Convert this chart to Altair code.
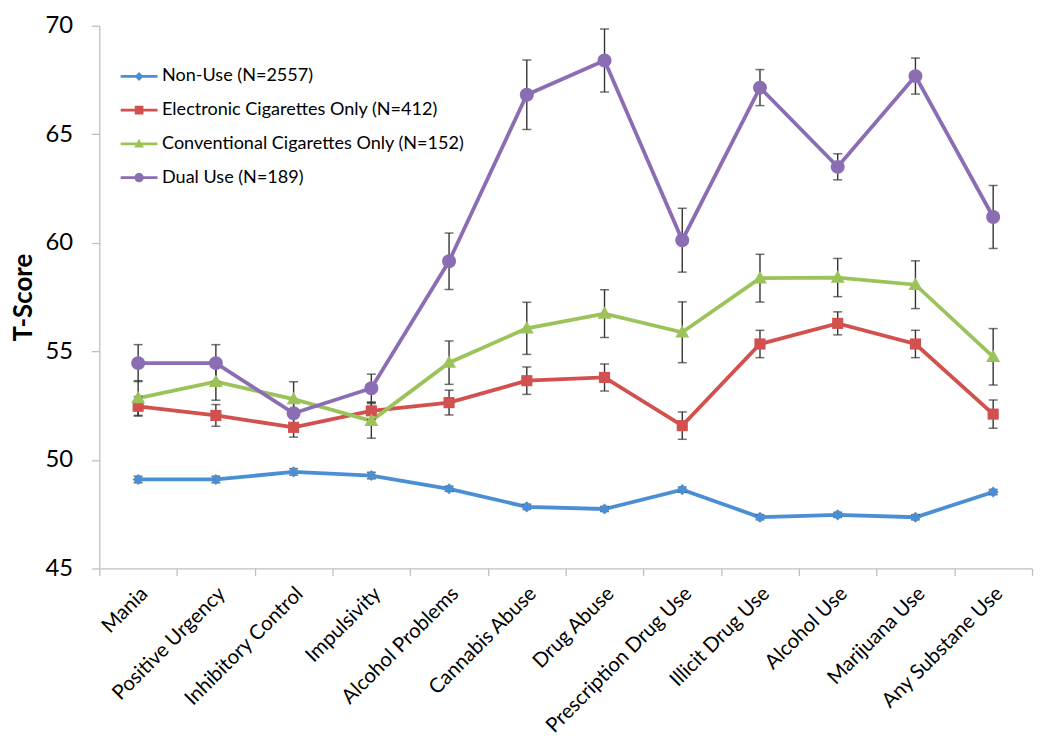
import altair as alt
import pandas as pd

categories = ["Mania", "Positive Urgency", "Inhibitory Control", "Impulsivity",
              "Alcohol Problems", "Cannabis Abuse", "Drug Abuse", "Prescription Drug Use",
              "Illicit Drug Use", "Alcohol Use", "Marijuana Use", "Any Substane Use"]

series_names = ["Non-Use (N=2557)", "Electronic Cigarettes Only (N=412)",
                "Conventional Cigarettes Only (N=152)", "Dual Use (N=189)"]

non_use = [49.10, 49.10, 49.45, 49.28, 48.67, 47.84, 47.74, 48.63, 47.36, 47.47, 47.36, 48.52]
non_use_err = [0.15, 0.15, 0.15, 0.15, 0.12, 0.12, 0.12, 0.12, 0.12, 0.12, 0.12, 0.12]

ecig = [52.47, 52.05, 51.50, 52.26, 52.64, 53.65, 53.80, 51.58, 55.34, 56.29, 55.34, 52.11]
ecig_err = [0.45, 0.50, 0.45, 0.40, 0.57, 0.63, 0.62, 0.63, 0.63, 0.53, 0.63, 0.65]

conv = [52.85, 53.60, 52.80, 51.80, 54.48, 56.06, 56.74, 55.88, 58.37, 58.40, 58.07, 54.75]
conv_err = [0.80, 0.85, 0.80, 0.80, 1.00, 1.20, 1.10, 1.40, 1.10, 0.88, 1.10, 1.30]

dual = [54.46, 54.46, 52.15, 53.30, 59.15, 66.82, 68.40, 60.12, 67.15, 63.50, 67.68, 61.19]
dual_err = [0.85, 0.85, 0.50, 0.65, 1.30, 1.60, 1.45, 1.47, 0.83, 0.60, 0.83, 1.45]

colors = ["#4A8FD6", "#D2504D", "#9CC35A", "#8B6DB3"]

y_ticks = [45, 50, 55, 60, 65, 70]

# marker shapes (unit paths, scaled by sqrt(size)/2)
marker_paths = [
    "M0,-0.8L0.8,0L0,0.8L-0.8,0Z",
    "M-0.8,-0.8H0.8V0.8H-0.8Z",
    "M0,-1.05L1.0,0.75L-1.0,0.75Z",
    "M-1.0,0A1.0,1.0 0 1,1 1.0,0A1.0,1.0 0 1,1 -1.0,0Z",
]
# legend symbols: a line segment with the marker in the middle
legend_line = "M-2.65,-0.2H2.65V0.2H-2.65Z"
legend_paths = [
    legend_line + "M0,-0.65L0.65,0L0,0.65L-0.65,0Z",
    legend_line + "M-0.62,-0.62H0.62V0.62H-0.62Z",
    legend_line + "M0,-0.75L0.7,0.52L-0.7,0.52Z",
    legend_line + "M-0.68,0A0.68,0.68 0 1,1 0.68,0A0.68,0.68 0 1,1 -0.68,0Z",
]

rows = []
for s, vals, errs in zip(series_names, [non_use, ecig, conv, dual],
                         [non_use_err, ecig_err, conv_err, dual_err]):
    for i, (c, v, e) in enumerate(zip(categories, vals, errs)):
        rows.append({"cat": c, "idx": i, "series": s, "val": v, "lo": v - e, "hi": v + e})
df = pd.DataFrame(rows)

FONT = "Lato"
GREY = "#BFBFBF"

x_enc = alt.X(
    "cat:N", sort=categories,
    scale=alt.Scale(type="band", paddingInner=0, paddingOuter=0),
    axis=alt.Axis(title=None, labelAngle=-45, labelAlign="right", labelBaseline="middle",
                  labelFontSize=20.5, labelFont=FONT, labelColor="black", labelPadding=15,
                  labelOffset=6, labelOverlap=False, labelLimit=0, tickBand="extent", tickSize=7,
                  tickColor=GREY, tickWidth=1.3, domainColor=GREY, domainWidth=1.3, grid=False),
)
y_scale = alt.Scale(domain=[45, 70], zero=False, nice=False)
y_axis = alt.Axis(title="T-Score", values=y_ticks, grid=False, labelFontSize=24, labelFont=FONT,
                  labelColor="black", labelPadding=19, tickSize=8, tickColor=GREY, tickWidth=1.3,
                  domainColor=GREY, domainWidth=1.3, titleFontSize=26, titleFont=FONT,
                  titleFontWeight="bold", titleColor="black", titlePadding=8)

color_scale = alt.Scale(domain=series_names, range=colors)

base = alt.Chart(df)

lines = base.mark_line(strokeWidth=3.8).encode(
    x=x_enc,
    y=alt.Y("val:Q", scale=y_scale, axis=y_axis),
    color=alt.Color("series:N", scale=color_scale, legend=None),
    order="idx:Q",
)

err_rule = base.mark_rule(color="#333333", strokeWidth=1.4).encode(
    x=x_enc, y=alt.Y("lo:Q", scale=y_scale), y2="hi:Q"
)
err_lo = base.mark_tick(color="#333333", thickness=1.5, size=9).encode(
    x=x_enc, y=alt.Y("lo:Q", scale=y_scale)
)
err_hi = base.mark_tick(color="#333333", thickness=1.5, size=9).encode(
    x=x_enc, y=alt.Y("hi:Q", scale=y_scale)
)

points = base.mark_point(filled=True, opacity=1, size=196, strokeWidth=0).encode(
    x=x_enc,
    y=alt.Y("val:Q", scale=y_scale),
    color=alt.Color("series:N", scale=color_scale, legend=None),
    shape=alt.Shape("series:N", scale=alt.Scale(domain=series_names, range=marker_paths), legend=None),
)

leg = alt.Legend(title=None, orient="none", legendX=31, legendY=42, symbolSize=196,
                 symbolStrokeWidth=0, labelFont=FONT, labelFontSize=18.2, labelColor="black",
                 labelOffset=14, rowPadding=15, labelLimit=0, padding=0)

legend_layer = base.transform_filter("false").mark_point(
    filled=True, opacity=1, size=196, strokeWidth=0
).encode(
    x=x_enc,
    y=alt.Y("val:Q", scale=y_scale),
    color=alt.Color("series:N", scale=color_scale, legend=leg),
    shape=alt.Shape("series:N", scale=alt.Scale(domain=series_names, range=legend_paths), legend=leg),
)

chart = alt.layer(lines, err_rule, err_lo, err_hi, points, legend_layer).resolve_scale(
    color="independent", shape="independent"
).properties(
    width=940, height=547,
    autosize=alt.AutoSizeParams(type="none"),
    padding={"left": 92, "top": 15, "right": 4, "bottom": 168},
).configure_view(stroke=None)

chart.save("out.html", embed_options={"renderer": "svg", "actions": False})
